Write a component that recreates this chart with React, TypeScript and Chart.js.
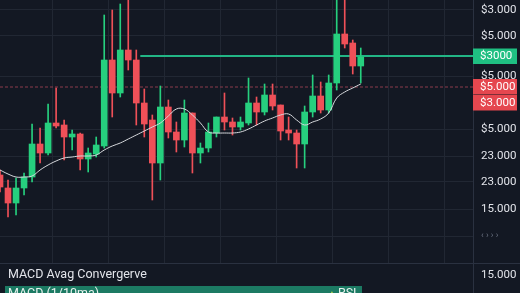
import React, { useEffect, useRef } from "react";
import { Chart, registerables } from "chart.js";

Chart.register(...registerables);

// Candle data (index = session number)
const candleOpen = [88, 75, 60, 75, 86, 119, 110, 140, 138, 126, 129, 104, 109, 117, 203, 170, 213, 203, 160, 143, 100, 156, 131, 123, 150, 110, 115, 130, 146, 141, 136, 140, 160, 151, 168, 158, 133, 130, 119, 151, 167, 153, 180, 229, 220, 197];
const candleClose = [76, 60, 75, 86, 119, 110, 140, 137, 126, 129, 104, 110, 118, 203, 170, 213, 203, 160, 139, 100, 156, 131, 123, 150, 110, 115, 131, 146, 141, 136, 141, 160, 151, 168, 157, 132, 130, 119, 151, 167, 153, 180, 229, 219, 197, 206];
const candleHigh = [93, 83, 85, 90, 139, 135, 159, 175, 143, 133, 130, 115, 126, 248, 253, 259, 268, 213, 174, 148, 177, 163, 141, 163, 150, 120, 140, 146, 170, 145, 146, 185, 166, 179, 179, 158, 146, 133, 157, 188, 181, 188, 268, 268, 223, 215];
const candleLow = [71, 46, 48, 68, 81, 100, 108, 135, 103, 113, 93, 91, 106, 115, 146, 166, 193, 138, 126, 63, 83, 125, 111, 116, 90, 100, 111, 126, 133, 128, 133, 138, 138, 148, 153, 123, 123, 95, 95, 146, 150, 150, 173, 215, 189, 180];
const movingAverage = [93, 89, 86, 86, 87, 93, 98, 102, 105, 106, 107, 107, 108, 113, 117, 120, 124, 128, 132, 136, 140, 147, 154, 154, 148, 140, 131, 130, 130, 130, 131, 134, 138, 142, 145, 148, 149, 143, 138, 141, 144, 150, 165, 171, 175, 179];

const yTickValues = [253, 227, 187, 134, 107, 81, 54, 27];
const yTickLabels = ["$3.000", "$5.000", "$5.000", "$5.000", "23.000", "23.000", "15.000", "‹ › › ›"];
const xGridValues = [3, 10, 17, 24, 31, 38, 45, 52];

const resistanceLevel = 207;
const resistanceStart = 17.5;
const markLevel = 176;
const priceTags = [
  { value: 207, label: "$3000", color: "#1fbf82" },
  { value: 176.5, label: "$5.000", color: "#e5474f" },
  { value: 160.5, label: "$3.000", color: "#e5474f" },
];
const panelTitle = "MACD Avag Convergerve";
const panelTick = "15.000";
const panelBandLabel = "MACD (1/10ma)";
const panelBandRight = "RSI";

const GREEN = "#26cf7e";
const RED = "#ef5058";
const BG = "#131823";
const GRID = "#212733";
const TEXT = "#e2e4ea";
const FONT = "Roboto, 'Noto Sans', sans-serif";

export default function App() {
  const ref = useRef<HTMLCanvasElement | null>(null);

  useEffect(() => {
    const canvas = ref.current;
    if (!canvas) return;
    const colors = candleOpen.map((o, i) => (candleClose[i] >= o ? GREEN : RED));

    const bgPlugin = {
      id: "bg",
      beforeDraw(chart: any) {
        const c = chart.ctx;
        c.save();
        c.fillStyle = BG;
        c.fillRect(0, 0, chart.width, chart.height);
        c.restore();
      },
      afterDraw(chart: any) {
        const c = chart.ctx;
        const y = chart.scales.y;
        const area = chart.chartArea;
        c.save();
        // price tags
        c.font = `11.5px ${FONT}`;
        c.textBaseline = "middle";
        c.textAlign = "left";
        for (const t of priceTags) {
          const py = y.getPixelForValue(t.value);
          c.fillStyle = t.color;
          c.fillRect(area.right, py - 7.5, 44, 15.5);
          c.fillStyle = "#ffffff";
          c.fillText(t.label, area.right + 7, py + 0.5);
        }
        // separator
        c.strokeStyle = "#2a3140";
        c.lineWidth = 1;
        c.beginPath();
        c.moveTo(0, area.bottom + 0.5);
        c.lineTo(chart.width, area.bottom + 0.5);
        c.moveTo(area.right + 0.5, area.bottom);
        c.lineTo(area.right + 0.5, chart.height);
        c.stroke();
        // bottom panel
        c.fillStyle = TEXT;
        c.font = `12.5px ${FONT}`;
        c.fillText(panelTitle, 8, area.bottom + 12);
        c.font = `11.5px ${FONT}`;
        c.fillText(panelTick, area.right + 8, area.bottom + 12);
        c.fillStyle = "#1c7a63";
        c.fillRect(5, area.bottom + 23, 357, 10);
        c.textBaseline = "top";
        c.fillStyle = "#e8f2ee";
        c.font = `12.5px ${FONT}`;
        c.fillText(panelBandLabel, 8, area.bottom + 25);
        c.fillStyle = "#c9e24a";
        c.font = `10px ${FONT}`;
        c.fillText("▲", 327, area.bottom + 26);
        c.fillStyle = "#e8f2ee";
        c.font = `12.5px ${FONT}`;
        c.fillText(panelBandRight, 338, area.bottom + 25);
        c.restore();
      },
    };

    const chart = new Chart(canvas, {
      type: "bar",
      data: {
        datasets: [
          {
            type: "line",
            data: movingAverage.map((v, i) => ({ x: i, y: v })),
            borderColor: "#d6d8dc",
            borderWidth: 1,
            pointRadius: 0,
            tension: 0.4,
            order: 0,
          } as any,
          {
            data: candleOpen.map((o, i) => ({ x: i, y: [o, candleClose[i]] })),
            backgroundColor: colors,
            barThickness: 6,
            grouped: false,
            borderWidth: 0,
            order: 1,
          } as any,
          {
            data: candleOpen.map((_, i) => ({ x: i, y: [candleLow[i], candleHigh[i]] })),
            backgroundColor: colors,
            barThickness: 1,
            grouped: false,
            borderWidth: 0,
            order: 2,
          } as any,
          {
            type: "line",
            data: [
              { x: resistanceStart, y: resistanceLevel },
              { x: 59, y: resistanceLevel },
            ],
            borderColor: "#22b585",
            borderWidth: 2,
            pointRadius: 0,
            order: 3,
          } as any,
          {
            type: "line",
            data: [
              { x: 0, y: markLevel },
              { x: 59, y: markLevel },
            ],
            borderColor: "#8c3a4c",
            borderWidth: 1,
            borderDash: [3, 2],
            pointRadius: 0,
            order: 4,
          } as any,
        ],
      },
      options: {
        responsive: false,
        animation: false,
        events: [],
        layout: { padding: { left: 0, top: 0, right: 0, bottom: 30 } },
        plugins: { legend: { display: false }, tooltip: { enabled: false } },
        scales: {
          x: {
            type: "linear",
            min: 0,
            max: 59,
            offset: false,
            ticks: { display: false },
            grid: { color: GRID, drawTicks: false },
            border: { display: false },
            afterBuildTicks: (axis: any) => {
              axis.ticks = xGridValues.map((v) => ({ value: v }));
            },
          },
          y: {
            position: "right",
            min: 0,
            max: 263,
            grid: { color: GRID, drawTicks: false },
            border: { display: true, color: "#2a3140" },
            ticks: {
              padding: 8,
              color: (ctx: any) => (ctx.index === 7 ? "#6c7383" : TEXT),
              font: (ctx: any) => ({ family: FONT, size: ctx.index === 7 ? 9 : 11.5 }),
              callback: (_v: any, i: number) => yTickLabels[i],
            },
            afterBuildTicks: (axis: any) => {
              axis.ticks = yTickValues.map((v) => ({ value: v }));
            },
            afterFit: (axis: any) => {
              axis.width = 47;
              axis.paddingTop = 0;
              axis.paddingBottom = 0;
            },
          },
        },
      } as any,
      plugins: [bgPlugin],
    });
    return () => chart.destroy();
  }, []);

  return (
    <div style={{ position: "fixed", left: 0, top: 0, width: 520, height: 293, background: BG }}>
      <canvas ref={ref} width={520} height={293} style={{ display: "block" }} />
    </div>
  );
}
